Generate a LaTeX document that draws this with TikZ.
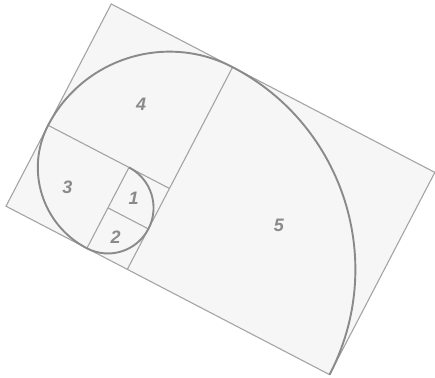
\documentclass[tikz,border=0pt]{standalone}
\usepackage{fontspec}
\setsansfont{Liberation Sans}
\usepackage{tikz}

\definecolor{linegray}{HTML}{A4A4A4}
\definecolor{spiralgray}{HTML}{8A8A8A}
\definecolor{paper}{HTML}{F6F6F6}

\begin{document}
\begin{tikzpicture}[
        x=1pt, y=1pt,
        frame/.style={draw=linegray, line width=1.1pt},
        spiral/.style={draw=spiralgray, line width=1.9pt},
        lbl/.style={text=spiralgray, font=\fontsize{18}{18}\selectfont\sffamily\bfseries\itshape, inner sep=0pt},
    ]
    \useasboundingbox (0,0) rectangle (435,-377);
    \begin{scope}[shift={(6,-206.2)}, rotate=-27.5, x=45.6pt, y=45.6pt]
        % squares
        \filldraw[frame, fill=paper] (0,0) rectangle (8,5);
        \draw[frame] (3,0) -- (3,5);
        \draw[frame] (0,2) -- (3,2);
        \draw[frame] (2,0) -- (2,2);
        \draw[frame] (2,1) -- (3,1);
        % spiral
        \draw[spiral] (8,0) arc[start angle=0, end angle=90, radius=5]
                            arc[start angle=90, end angle=180, radius=3]
                            arc[start angle=180, end angle=270, radius=2]
                            arc[start angle=-90, end angle=90, radius=1];
        % labels
        \node[lbl] (n4) at (1.6,3.35) {4};
        \node[lbl] (n3) at (1.0,1.0) {3};
        \node[lbl] (n1) at (2.4,1.45) {1};
        \node[lbl] (n2) at (2.45,0.5) {2};
        \node[lbl] (n5) at (5.5,2.4) {5};
    \end{scope}
\end{tikzpicture}
\end{document}
